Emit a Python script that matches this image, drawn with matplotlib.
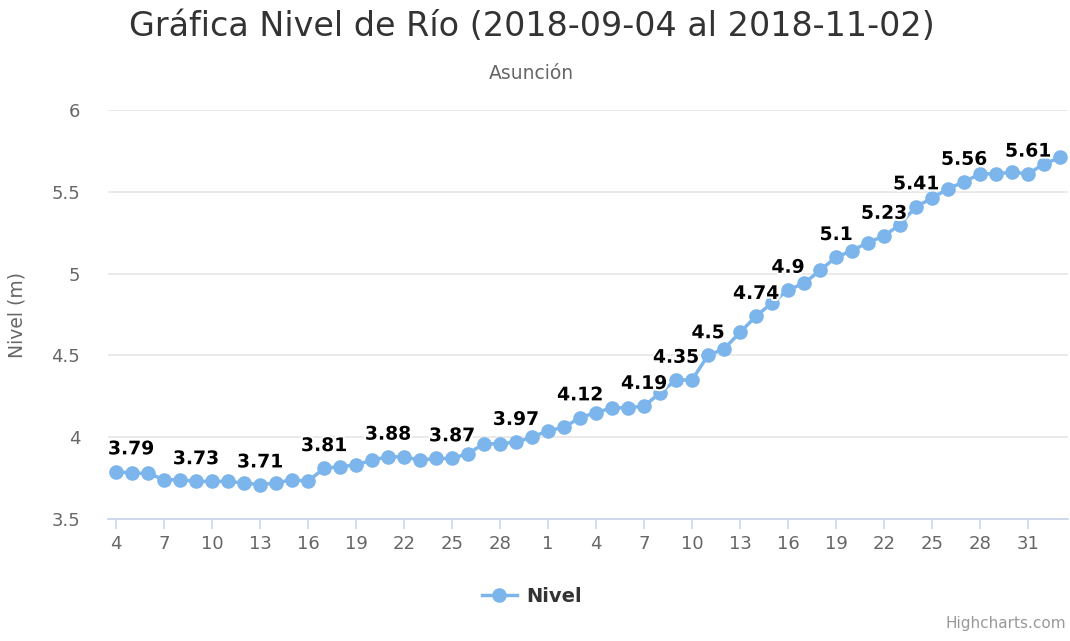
import numpy as np
import pandas as pd
import matplotlib
matplotlib.use("Agg")
import matplotlib.pyplot as plt
import matplotlib.patheffects as pe
from matplotlib.lines import Line2D

# daily river level, Asuncion, 2018-09-04 .. 2018-11-02
dates = pd.date_range("2018-09-04", "2018-11-02", freq="D")
nivel = [3.79, 3.78, 3.78, 3.74, 3.74, 3.73, 3.73, 3.73, 3.72, 3.71,
         3.72, 3.74, 3.73, 3.81, 3.82, 3.83, 3.86, 3.88, 3.88, 3.86,
         3.87, 3.87, 3.90, 3.96, 3.96, 3.97, 4.00, 4.04, 4.06, 4.12,
         4.15, 4.18, 4.18, 4.19, 4.27, 4.35, 4.35, 4.50, 4.54, 4.64,
         4.74, 4.82, 4.90, 4.94, 5.02, 5.10, 5.14, 5.19, 5.23, 5.30,
         5.41, 5.46, 5.52, 5.56, 5.61, 5.61, 5.62, 5.61, 5.67, 5.71]
# points whose value label is visible
labeled = [0, 5, 9, 13, 17, 21, 25, 29, 33, 35, 37, 40, 42, 45, 48, 50, 53, 57]
yticks = [3.5, 4, 4.5, 5, 5.5, 6]

color = "#7cb5ec"
x = np.arange(len(dates))

fig = plt.figure(figsize=(10.7, 6.41), dpi=100)
ax = fig.add_axes([108 / 1070, 122 / 641, 960 / 1070, 409 / 641])

ax.plot(x, nivel, color=color, lw=2.5, marker="o", ms=10.5,
        markeredgewidth=0, zorder=3, clip_on=False)

for i in labeled:
    val = nivel[i]
    txt = ("%.2f" % val).rstrip("0").rstrip(".")
    if i == 0:
        ax.annotate(txt, xy=(-0.5, val), xytext=(0, 9.5), textcoords="offset points",
                    ha="left", va="bottom", fontsize=13.5, fontweight="bold",
                    color="black", zorder=5,
                    path_effects=[pe.withStroke(linewidth=3, foreground="white")])
    else:
        ax.annotate(txt, xy=(i, val), xytext=(0, 9.5), textcoords="offset points",
                    ha="center", va="bottom", fontsize=13.5, fontweight="bold",
                    color="black", zorder=5,
                    path_effects=[pe.withStroke(linewidth=3, foreground="white")])

ax.set_xlim(-0.5, 59.5)
ax.set_ylim(3.5, 6)
ax.set_yticks(yticks)
ax.set_yticklabels([("%g" % v) for v in yticks])
ax.grid(axis="y", color="#e6e6e6", lw=1.2)
ax.set_axisbelow(True)

xt = x[::3]
ax.set_xticks(xt)
ax.set_xticklabels([str(dates[i].day) for i in xt])

for s in ["top", "right", "left"]:
    ax.spines[s].set_visible(False)
ax.spines["bottom"].set_color("#ccd6eb")
ax.spines["bottom"].set_linewidth(1.3)
ax.tick_params(axis="x", colors="#ccd6eb", length=7.5, width=1.2, pad=4,
               labelcolor="#666666", labelsize=13)
ax.tick_params(axis="y", length=0, pad=20, labelcolor="#666666", labelsize=13)

ax.set_ylabel("Nivel (m)", fontsize=13.5, color="#666666", labelpad=18)

fig.text(0.497, 0.958, "Gráfica Nivel de Río (2018-09-04 al 2018-11-02)",
         ha="center", va="center", fontsize=24, color="#333333")
fig.text(0.497, 0.886, "Asunción", ha="center", va="center",
         fontsize=13.5, color="#666666")

handle = Line2D([], [], color=color, lw=2.5, marker="o", ms=10.5, markeredgewidth=0)
fig.legend([handle], ["Nivel"], loc="center", bbox_to_anchor=(0.497, 0.07),
           frameon=False, prop={"weight": "bold", "size": 14},
           labelcolor="#333333", handlelength=1.8, handletextpad=0.5)

fig.text(0.996, 0.015, "Highcharts.com", ha="right", va="bottom",
         fontsize=11, color="#999999")

fig.savefig("out.png", dpi=100)
